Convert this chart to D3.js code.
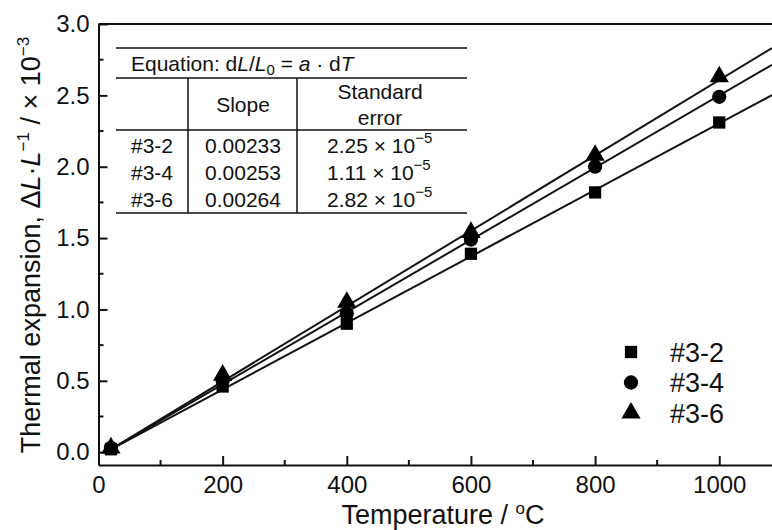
<!DOCTYPE html>
<html>
<head>
<meta charset="utf-8">
<script src="https://cdn.jsdelivr.net/npm/d3@7"></script>
<style>
  body { margin: 0; background: #fff; }
  svg text { font-family: "Liberation Sans", Arial, sans-serif; fill: #111; }
</style>
</head>
<body>
<div id="chart"></div>
<script>
// data (thermal expansion in x10^-3)
const temps = [20, 200, 400, 600, 800, 1000];
const series = ["#3-2", "#3-4", "#3-6"];
const exp32 = [0.02, 0.46, 0.90, 1.39, 1.82, 2.31];
const exp34 = [0.03, 0.50, 0.97, 1.49, 2.00, 2.49];
const exp36 = [0.03, 0.54, 1.05, 1.54, 2.08, 2.63];
const slopes = [0.00233, 0.00253, 0.00264];
const stdErrors = ["2.25", "1.11", "2.82"];
const xTicks = [0, 200, 400, 600, 800, 1000];
const yTicks = [0, 0.5, 1.0, 1.5, 2.0, 2.5, 3.0];

const W = 772, H = 530;
const svg = d3.select("#chart").append("svg")
  .attr("width", W).attr("height", H);

// scales
const x = d3.scaleLinear().domain([0, 1085]).range([98.5, 772]);
const y = d3.scaleLinear().domain([-0.09, 3.0]).range([465, 24]);

// frame (top line)
svg.append("line")
  .attr("x1", x.range()[0]).attr("x2", W)
  .attr("y1", y(3.0)).attr("y2", y(3.0))
  .attr("stroke", "#111").attr("stroke-width", 2);

// x axis
const xAxis = svg.append("g")
  .attr("transform", `translate(0,${y.range()[0]})`)
  .call(d3.axisBottom(x).tickValues(xTicks).tickSizeInner(-9).tickSizeOuter(0).tickPadding(11).tickFormat(d3.format("d")));
xAxis.select(".domain").attr("stroke-width", 2).attr("stroke", "#111");
xAxis.selectAll(".tick line").attr("stroke-width", 2).attr("stroke", "#111");
xAxis.selectAll("text").style("font-size", "24px");
xAxis.selectAll(".minor").data([100, 300, 500, 700, 900]).join("line")
  .attr("class", "minor")
  .attr("x1", d => x(d)).attr("x2", d => x(d))
  .attr("y1", 0).attr("y2", -5)
  .attr("stroke", "#111").attr("stroke-width", 2);

// y axis
const yAxis = svg.append("g")
  .attr("transform", `translate(${x.range()[0]},0)`)
  .call(d3.axisLeft(y).tickValues(yTicks).tickSizeInner(-9).tickSizeOuter(0).tickPadding(9).tickFormat(d3.format(".1f")));
yAxis.select(".domain").attr("stroke-width", 2).attr("stroke", "#111");
yAxis.selectAll(".tick line").attr("stroke-width", 2).attr("stroke", "#111");
yAxis.selectAll("text").style("font-size", "24px");
yAxis.selectAll(".minor").data([0.25, 0.75, 1.25, 1.75, 2.25, 2.75]).join("line")
  .attr("class", "minor")
  .attr("y1", d => y(d)).attr("y2", d => y(d))
  .attr("x1", 0).attr("x2", 5)
  .attr("stroke", "#111").attr("stroke-width", 2);

// axis titles
svg.append("text")
  .attr("x", 443).attr("y", 524)
  .attr("text-anchor", "middle")
  .style("font-size", "27px")
  .html('Temperature / <tspan dy="-10" font-size="17px">o</tspan><tspan dy="10">C</tspan>');

const yt = svg.append("text")
  .attr("transform", "translate(40,245) rotate(-90)")
  .attr("text-anchor", "middle")
  .style("font-size", "27px");
yt.append("tspan").text("Thermal expansion, \u0394");
yt.append("tspan").attr("font-style", "italic").text("L");
yt.append("tspan").text("\u00b7");
yt.append("tspan").attr("font-style", "italic").text("L");
yt.append("tspan").attr("dy", -11).style("font-size", "17px").text("\u22121");
yt.append("tspan").attr("dy", 11).text(" / \u00d7 10");
yt.append("tspan").attr("dy", -11).style("font-size", "17px").text("\u22123");

// fit lines from slope values (units x10^-3)
const xEnd = x.domain()[1];
const fits = slopes.map(a => [[20, 0.02], [xEnd, 0.02 + a * (xEnd - 20)]]);
svg.append("g").selectAll("line").data(fits).join("line")
  .attr("x1", d => x(d[0][0])).attr("y1", d => y(d[0][1]))
  .attr("x2", d => x(d[1][0])).attr("y2", d => y(d[1][1]))
  .attr("stroke", "#111").attr("stroke-width", 2);

// markers
const symbols = [d3.symbolSquare, d3.symbolCircle, d3.symbolTriangle];
const sizes = [150, 160, 160];
const allSeries = [exp32, exp34, exp36];
allSeries.forEach((vals, i) => {
  svg.append("g").selectAll("path").data(vals).join("path")
    .attr("d", d3.symbol().type(symbols[i]).size(sizes[i]))
    .attr("transform", (d, j) => `translate(${x(temps[j])},${y(d)})`)
    .attr("fill", "#000");
});

// legend
const legend = svg.append("g");
series.forEach((s, i) => {
  const ly = 352 + i * 30.5;
  legend.append("path")
    .attr("d", d3.symbol().type(symbols[i]).size(sizes[i]))
    .attr("transform", `translate(631,${ly})`)
    .attr("fill", "#000");
  legend.append("text")
    .attr("x", 670).attr("y", ly)
    .attr("dy", "0.36em")
    .style("font-size", "27px")
    .text(s);
});

// inset table
const tb = svg.append("g").style("font-size", "21px");
const tl = 116, tr = 467;
const hl = [48, 78, 130, 213];
hl.forEach(v => tb.append("line").attr("x1", tl).attr("x2", tr).attr("y1", v).attr("y2", v)
  .attr("stroke", "#111").attr("stroke-width", 1.5));
[188, 297].forEach(v => tb.append("line").attr("x1", v).attr("x2", v).attr("y1", 78).attr("y2", 213)
  .attr("stroke", "#111").attr("stroke-width", 1.5));

const eq = tb.append("text").attr("x", 131).attr("y", 71);
eq.append("tspan").text("Equation: d");
eq.append("tspan").attr("font-style", "italic").text("L");
eq.append("tspan").text("/");
eq.append("tspan").attr("font-style", "italic").text("L");
eq.append("tspan").attr("dy", 4).style("font-size", "15px").text("0");
eq.append("tspan").attr("dy", -4).text(" = ");
eq.append("tspan").attr("font-style", "italic").text("a");
eq.append("tspan").text(" \u00b7 d");
eq.append("tspan").attr("font-style", "italic").text("T");

tb.append("text").attr("x", 243).attr("y", 112).attr("text-anchor", "middle").text("Slope");
tb.append("text").attr("x", 380).attr("y", 99).attr("text-anchor", "middle").text("Standard");
tb.append("text").attr("x", 380).attr("y", 125).attr("text-anchor", "middle").text("error");

series.forEach((s, i) => {
  const ry = 153 + i * 27;
  tb.append("text").attr("x", 131).attr("y", ry).text(s);
  tb.append("text").attr("x", 243).attr("y", ry).attr("text-anchor", "middle").text(slopes[i].toFixed(5));
  const se = tb.append("text").attr("x", 327).attr("y", ry);
  se.append("tspan").text(stdErrors[i] + " \u00d7 10");
  se.append("tspan").attr("dy", -10).style("font-size", "15px").text("\u22125");
});
</script>
</body>
</html>
